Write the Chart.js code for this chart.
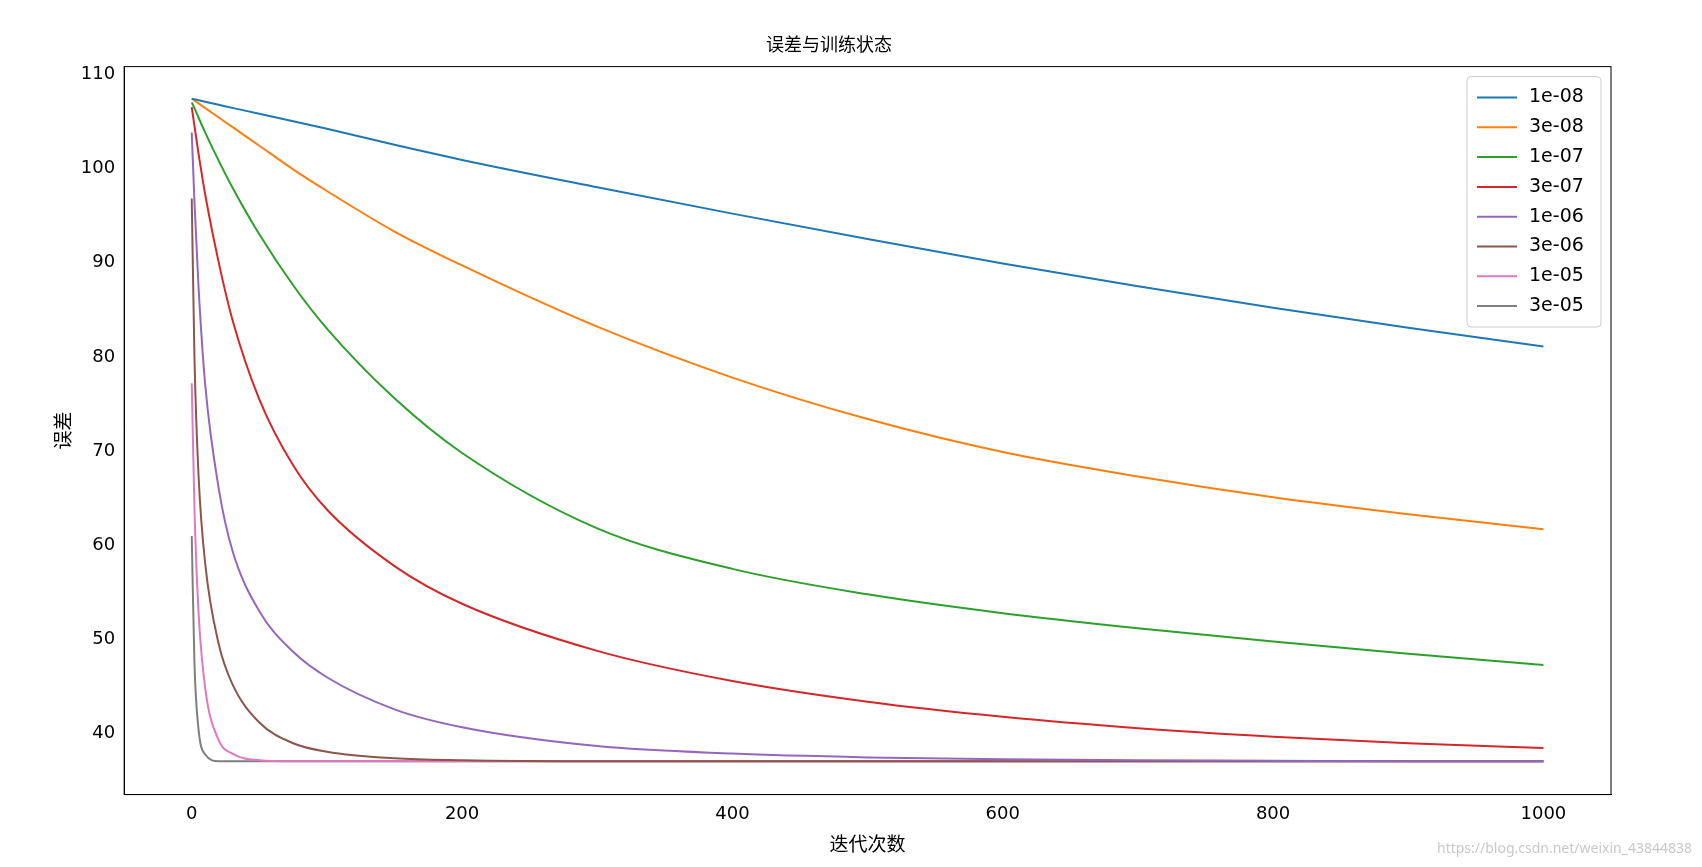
<!DOCTYPE html>
<html>
<head>
<meta charset="utf-8">
<script src="https://cdn.jsdelivr.net/npm/chart.js@4"></script>
<style>
html,body{margin:0;padding:0;background:#fff}
#wrap{position:relative;width:1702px;height:867px}
#mark{position:absolute;right:10px;bottom:10px;font:14px "Noto Sans",sans-serif;color:#c8c8c8}
</style>
</head>
<body>
<div id="wrap"><canvas id="grafico" width="1702" height="867"></canvas><div id="mark">https://blog.csdn.net/weixin_43844838</div></div>
<script>
const iteracoes=[0,2,5,10,20,30,50,75,100,150,200,300,400,500,600,700,800,900,1000]
const rotulos=["1e-08","3e-08","1e-07","3e-07","1e-06","3e-06","1e-05","3e-05"]
const cores=["#1f77b4","#ff7f0e","#2ca02c","#d62728","#9467bd","#8c564b","#e377c2","#7f7f7f"]

const s1e8=[107.4,107.33,107.24,107.07,106.75,106.42,105.8,105.0,104.2,102.5,100.9,98.0,95.2,92.5,89.9,87.5,85.2,83.1,81.1]
const s3e8=[107.4,107.2,106.9,106.4,105.4,104.4,102.4,99.9,97.6,93.3,89.7,83.2,77.8,73.4,69.9,67.3,65.1,63.3,61.7]
const s1e7=[107.0,106.4,105.4,103.8,100.8,98.0,93.0,87.6,83.0,75.6,69.8,61.8,57.5,54.8,52.8,51.2,49.8,48.5,47.3]
const s3e7=[106.5,104.5,101.6,97.2,90.0,84.0,75.5,68.5,63.8,57.8,53.8,48.8,45.6,43.4,41.8,40.6,39.7,39.0,38.5]
const s1e6=[103.8,96.5,87.5,77.0,66.0,59.5,53.0,48.7,46.0,42.6,40.7,38.7,37.9,37.5,37.3,37.2,37.15,37.1,37.1]
const s3e6=[96.8,80.0,67.5,58.0,49.5,45.3,41.2,39.0,38.1,37.4,37.2,37.1,37.1,37.1,37.1,37.1,37.1,37.1,37.1]
const s1e5=[77.2,64.0,53.0,44.8,39.3,37.9,37.2,37.1,37.1,37.1,37.1,37.1,37.1,37.1,37.1,37.1,37.1,37.1,37.1]
const s3e5=[61.0,47.5,40.5,37.8,37.1,37.1,37.1,37.1,37.1,37.1,37.1,37.1,37.1,37.1,37.1,37.1,37.1,37.1,37.1]
const series=[s1e8,s3e8,s1e7,s3e7,s1e6,s3e6,s1e5,s3e5]

const fonte='"Noto Sans CJK SC","DejaVu Sans",sans-serif'

// legenda dentro da área do gráfico, canto superior direito
const legendaInterna={
id:"legendaInterna",
afterDraw(chart){
const ctx=chart.ctx
const area=chart.chartArea
const ds=chart.data.datasets
const w=134,lh=29.8,h=ds.length*lh+12
const x=area.right-w-10,y=area.top+10
ctx.save()
ctx.strokeStyle="#000";ctx.lineWidth=1
ctx.strokeRect(area.left,area.top,area.right-area.left,area.bottom-area.top)
ctx.fillStyle="rgba(255,255,255,0.8)"
ctx.strokeStyle="#cccccc"
ctx.beginPath()
ctx.roundRect(x,y,w,h,4)
ctx.fill()
ctx.stroke()
ctx.font='19px "DejaVu Sans",sans-serif'
ctx.textBaseline="middle"
ds.forEach((d,i)=>{
let yy=y+6+lh*i+lh/2
ctx.strokeStyle=d.borderColor
ctx.lineWidth=2
ctx.beginPath()
ctx.moveTo(x+10,yy)
ctx.lineTo(x+50,yy)
ctx.stroke()
ctx.fillStyle="#000"
ctx.fillText(d.label,x+62,yy)
})
ctx.restore()
}
}

new Chart(document.getElementById("grafico"),{
type:"line",
data:{
datasets:series.map((s,i)=>({
label:rotulos[i],
data:s.map((v,j)=>({x:iteracoes[j],y:v})),
borderColor:cores[i],
backgroundColor:cores[i],
borderWidth:2,
pointRadius:0,
cubicInterpolationMode:"monotone",
fill:false
}))
},
plugins:[legendaInterna],
options:{
responsive:false,
animation:false,
layout:{padding:{left:47,right:91,top:0,bottom:8}},
plugins:{
legend:{display:false},
tooltip:{enabled:false},
title:{display:true,text:"误差与训练状态",color:"#000",font:{family:fonte,size:18,weight:"normal"},padding:{top:33,bottom:12}}
},
scales:{
x:{
type:"linear",min:-50,max:1050,
grid:{display:false,drawTicks:true,tickLength:6,tickColor:"#000"},
border:{color:"#000",width:1},
ticks:{stepSize:200,color:"#000",font:{family:'"DejaVu Sans",sans-serif',size:18},callback:v=>v%200===0&&v>=0?v:null,autoSkip:false},
title:{display:true,text:"迭代次数",color:"#000",font:{family:fonte,size:19}}
},
y:{
min:33.55,max:110.8,
afterBuildTicks(axis){axis.ticks=[40,50,60,70,80,90,100,110].map(v=>({value:v}))},
grid:{display:false,drawTicks:true,tickLength:6,tickColor:"#000"},
border:{color:"#000",width:1},
ticks:{color:"#000",font:{family:'"DejaVu Sans",sans-serif',size:18}},
title:{display:true,text:"误差",color:"#000",font:{family:fonte,size:19}}
}
}
}
})
</script>
</body>
</html>
